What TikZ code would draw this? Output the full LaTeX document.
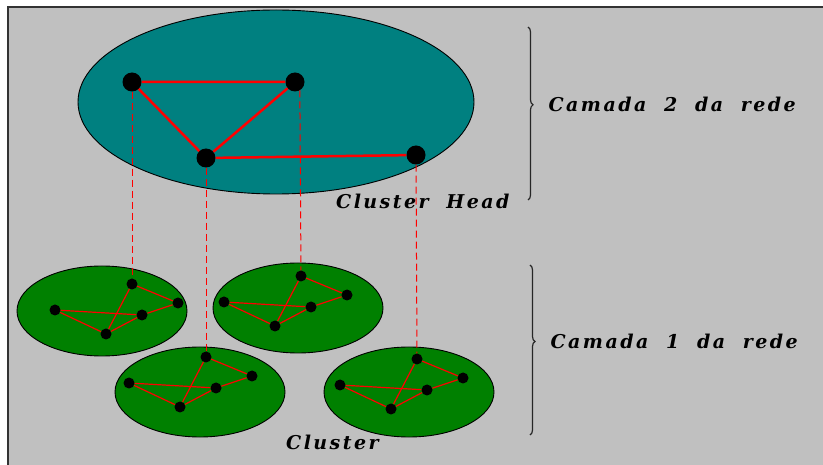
\documentclass[tikz,border=0pt]{standalone}
\usepackage{fontspec}
\usepackage{xcolor}
\usepackage{tikz}
\usetikzlibrary{decorations.pathreplacing}

\newfontfamily\lblfont[LetterSpace=13,WordSpace=1.95]{DejaVu Serif}
\definecolor{panelgray}{HTML}{C0C0C0}
\definecolor{headteal}{HTML}{008080}
\definecolor{clustgreen}{HTML}{008000}

\begin{document}
\begin{tikzpicture}[x=1pt,y=-1pt,
  head/.style={circle,fill=black,inner sep=0pt,minimum size=19pt},
  member/.style={circle,fill=black,inner sep=0pt,minimum size=11pt},
  hlink/.style={red,line width=2.5pt},
  mlink/.style={red,line width=1.2pt},
  vlink/.style={red,line width=1pt,dash pattern=on 7pt off 4pt},
  layer/.style={decorate,decoration={brace,amplitude=5pt,aspect=0.45},line width=1.2pt,black!85},
  lbl/.style={font=\lblfont\bfseries\itshape\fontsize{19}{21}\selectfont,inner sep=0pt,anchor=west,black}]
\useasboundingbox (0,0) rectangle (823,465);
\fill[white] (0,0) rectangle (823,465);
\fill[panelgray] (8,7) rectangle (823,465);
\draw[line width=1.5pt,black!80] (8,465) -- (8,7) -- (823,7);

% camada 2
\draw[line width=0.9pt,fill=headteal] (276,102) ellipse [x radius=198pt, y radius=92pt];

% camada 1
\draw[line width=0.9pt,fill=clustgreen] (102,311) ellipse [x radius=85pt, y radius=45pt];
\draw[line width=0.9pt,fill=clustgreen] (298,308) ellipse [x radius=85pt, y radius=45pt];
\draw[line width=0.9pt,fill=clustgreen] (200,392) ellipse [x radius=85pt, y radius=45pt];
\draw[line width=0.9pt,fill=clustgreen] (409,392) ellipse [x radius=85pt, y radius=45pt];

\node[head] (a) at (132,82) {};
\node[head] (b) at (295,82) {};
\node[head] (c) at (206,158) {};
\node[head] (d) at (416,155) {};
\draw[hlink] (a) -- (b) -- (c) -- (a);
\draw[hlink] (c) -- (d);

% same little net in every cluster
\foreach \k/\px/\py in {1/132/284, 2/301/276, 3/206/357, 4/417/359}{
  \begin{scope}[shift={(\px,\py)}]
    \node[member] (m\k-t) at (0,0) {};
    \node[member] (m\k-r) at (46,19) {};
    \node[member] (m\k-l) at (-77,26) {};
    \node[member] (m\k-c) at (10,31) {};
    \node[member] (m\k-b) at (-26,50) {};
  \end{scope}
  \draw[mlink] (m\k-t) -- (m\k-r) -- (m\k-c) -- (m\k-b) -- (m\k-l) -- (m\k-c);
  \draw[mlink] (m\k-t) -- (m\k-b);
}

\draw[vlink] (a) -- (m1-t);
\draw[vlink] (b.-60) -- (m2-t);
\draw[vlink] (c) -- (m3-t);
\draw[vlink] (d) -- (m4-t);

\node[lbl] (hd) at (336,201) {Cluster Head};
\node[lbl] (cl) at (286,442) {Cluster};

\coordinate (top2) at (528,27);
\coordinate (bot2) at (528,200);
\coordinate (top1) at (530,265);
\coordinate (bot1) at (530,435);
\draw[layer] (top2) -- (bot2) node[lbl,pos=0.45,xshift=20pt] (cam2) {Camada 2 da rede};
\draw[layer] (top1) -- (bot1) node[lbl,pos=0.45,xshift=20pt] (cam1) {Camada 1 da rede};
\end{tikzpicture}
\end{document}
